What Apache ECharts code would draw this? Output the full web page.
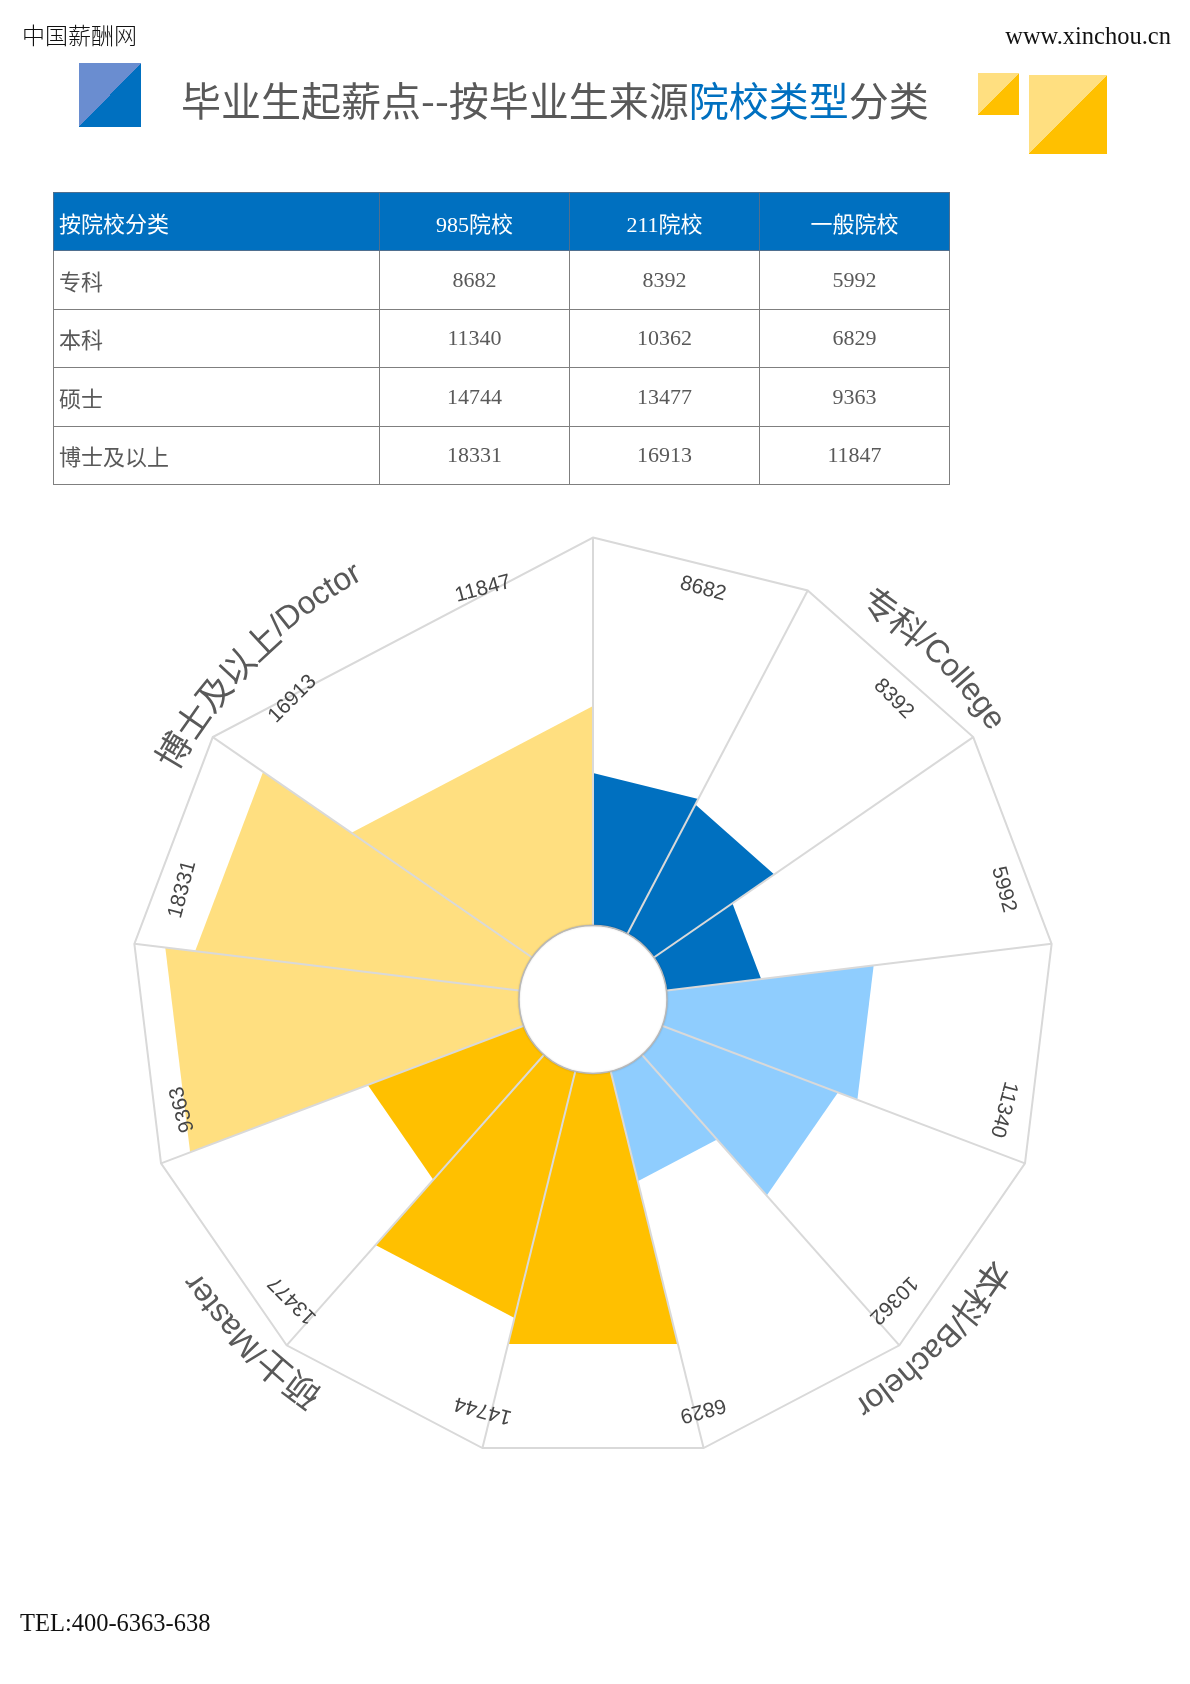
<!DOCTYPE html>
<html>
<head>
<meta charset="utf-8">
<script src="https://cdn.jsdelivr.net/npm/echarts@6/dist/echarts.min.js"></script>
<style>
html,body{margin:0;padding:0;background:#fff;}
#page{position:relative;width:1190px;height:1684px;overflow:hidden;background:#fff;}
#chart{position:absolute;left:0;top:0;width:1190px;height:1684px;}
.abs{position:absolute;white-space:nowrap;z-index:2;}
#site{left:22px;top:22.5px;font-size:23px;line-height:23px;font-family:"Noto Sans CJK SC";font-weight:300;color:#111;}
#url{right:19px;top:23.5px;font-size:24.5px;line-height:24px;font-family:"Liberation Serif";color:#111;}
#title{left:181px;top:78.5px;font-size:40px;line-height:40px;font-family:"Noto Sans CJK SC";color:#595959;}
#title .hl{color:#0070c0;}
.sq{position:absolute;z-index:2;}
#sq1{left:79px;top:63px;width:62px;height:64px;background:linear-gradient(to bottom right,#6a8dd0 50%,#0070c0 50%);}
#sq2{left:978px;top:73px;width:41px;height:42px;background:linear-gradient(to bottom right,#ffdf80 50%,#ffc000 50%);}
#sq3{left:1029px;top:75px;width:78px;height:79px;background:linear-gradient(to bottom right,#ffdf80 50%,#ffc000 50%);}
#tbl{position:absolute;z-index:2;left:53px;top:192px;border-collapse:collapse;table-layout:fixed;
  font-family:"Liberation Serif","Noto Sans CJK SC";font-size:22px;color:#595959;}
#tbl tr{height:58.4px;}
#tbl td{border:1px solid #7f7f7f;padding:0;text-align:center;}
#tbl td.first{text-align:left;padding-left:5px;}
#tbl tr.head td{background:#0070c0;color:#fff;border-color:#4f6f8f;}
#tel{left:20px;top:1611px;font-size:24.5px;line-height:24px;font-family:"Liberation Serif";color:#111;}
</style>
</head>
<body>
<div id="page">
  <div id="chart"></div>
  <div class="abs" id="site">中国薪酬网</div>
  <div class="abs" id="url">www.xinchou.cn</div>
  <div class="sq" id="sq1"></div>
  <div class="abs" id="title">毕业生起薪点--按毕业生来源<span class="hl">院校类型</span>分类</div>
  <div class="sq" id="sq2"></div>
  <div class="sq" id="sq3"></div>
  <table id="tbl"></table>
  <div class="abs" id="tel">TEL:400-6363-638</div>
</div>
<script>
// ---------------- data ----------------
const tableCorner = '按院校分类';
const schoolTypes = ['985院校', '211院校', '一般院校'];
const degreeNames = ['专科', '本科', '硕士', '博士及以上'];
const degreeLabels = ['专科/College', '本科/Bachelor', '硕士/Master', '博士及以上/Doctor'];
const collegeValues  = [8682, 8392, 5992];
const bachelorValues = [11340, 10362, 6829];
const masterValues   = [14744, 13477, 9363];
const doctorValues   = [18331, 16913, 11847];
const groupValues = [collegeValues, bachelorValues, masterValues, doctorValues];

// ---------------- styles / layout ----------------
const groupColors = ['#0070c0', '#8fcdfe', '#ffc000', '#ffdf80'];
const R_MIN = -2000, R_MAX = 19800;   // radius axis
const SLOTS = 13;                     // angle axis extent
const GRID_COLOR = '#d9d9d9';
const VALUE_FONT = '21px "Liberation Sans", sans-serif';
const CAT_FONT_LATIN = '32px "Liberation Sans", sans-serif';
const CAT_FONT_CJK = '35px "Noto Sans CJK SC", sans-serif';
const VALUE_R_FRAC = 0.92;
const CAT_R_FRAC = 1.056;
const HOLE_PX = 74;

// ---------------- table ----------------
(function buildTable() {
  const t = document.getElementById('tbl');
  const widths = [326, 190, 190, 190];
  let html = '<colgroup>' + widths.map(w => '<col style="width:' + w + 'px">').join('') + '</colgroup>';
  html += '<tr class="head"><td class="first">' + tableCorner + '</td>' +
    schoolTypes.map(s => '<td>' + s + '</td>').join('') + '</tr>';
  degreeNames.forEach((d, g) => {
    html += '<tr><td class="first">' + d + '</td>' +
      groupValues[g].map(v => '<td>' + v + '</td>').join('') + '</tr>';
  });
  t.innerHTML = html;
})();

// ---------------- chart ----------------
const flatValues = [];
groupValues.forEach((arr, g) => arr.forEach(v => flatValues.push({ v, g })));
const nBars = flatValues.length;

const barData = flatValues.map((d, i) => ({
  value: [d.v, i, i === nBars - 1 ? SLOTS : i + 1],
  itemStyle: { color: groupColors[d.g] }
}));
const labelData = flatValues.map((d, i) => [d.v, (i + 0.5) * SLOTS / nBars]);
const catData = degreeLabels.map((t, g) => [R_MAX, (g * 3 + 1.5) * SLOTS / nBars]);

const measureCtx = document.createElement('canvas').getContext('2d');
const rVal = frac => R_MIN + frac * (R_MAX - R_MIN);
const toDeg = a => a / SLOTS * 360;
const isCJK = ch => ch.charCodeAt(0) > 0x2e80;

const chart = echarts.init(document.getElementById('chart'), null, { renderer: 'canvas' });
chart.setOption({
  animation: false,
  polar: { center: [593, 999.5], radius: 462 },
  angleAxis: { type: 'value', min: 0, max: SLOTS, startAngle: 90, clockwise: true, show: false },
  radiusAxis: { type: 'value', min: R_MIN, max: R_MAX, show: false },
  series: [
    {
      type: 'custom', coordinateSystem: 'polar', z: 2, clip: false,
      data: barData,
      renderItem: function (params, api) {
        const v = api.value(0), a0 = api.value(1), a1 = api.value(2);
        const pts = [api.coord([R_MIN, a0]), api.coord([v, a0]), api.coord([v, a1]), api.coord([R_MIN, a1])];
        return { type: 'polygon', shape: { points: pts }, style: { fill: api.visual('color') } };
      }
    },
    {
      type: 'custom', coordinateSystem: 'polar', z: 3, clip: false, silent: true,
      data: [[R_MAX, 0]],
      renderItem: function (params, api) {
        const c = api.coord([R_MIN, 0]);
        const verts = [];
        for (let i = 0; i < nBars; i++) verts.push(api.coord([R_MAX, i]));
        const children = verts.map(p => ({
          type: 'line', shape: { x1: c[0], y1: c[1], x2: p[0], y2: p[1] },
          style: { stroke: GRID_COLOR, lineWidth: 2 }
        }));
        children.push({ type: 'polygon', shape: { points: verts },
          style: { fill: 'none', stroke: GRID_COLOR, lineWidth: 2 } });
        return { type: 'group', children };
      }
    },
    {
      type: 'custom', coordinateSystem: 'polar', z: 4, clip: false, silent: true,
      data: [[R_MIN, 0]],
      renderItem: function (params, api) {
        const c = api.coord([R_MIN, 0]);
        return { type: 'circle', shape: { cx: c[0], cy: c[1], r: HOLE_PX },
          style: { fill: '#fff', stroke: '#b8b8b8', lineWidth: 1.5, shadowBlur: 2, shadowColor: 'rgba(0,0,0,0.15)' } };
      }
    },
    {
      type: 'custom', coordinateSystem: 'polar', z: 5, clip: false, silent: true,
      data: labelData,
      renderItem: function (params, api) {
        const v = api.value(0), a = api.value(1);
        const p = api.coord([rVal(VALUE_R_FRAC), a]);
        return { type: 'text', x: p[0], y: p[1], rotation: -toDeg(a) * Math.PI / 180,
          style: { text: String(v), x: 0, y: 0, align: 'center', verticalAlign: 'middle',
            font: VALUE_FONT, fill: '#454545' } };
      }
    },
    {
      type: 'custom', coordinateSystem: 'polar', z: 5, clip: false, silent: true,
      data: catData,
      renderItem: function (params, api) {
        const text = degreeLabels[params.dataIndex];
        const a = api.value(1);
        const c = api.coord([R_MIN, 0]);
        const o = api.coord([R_MAX, 0]);
        const rPx = Math.abs(c[1] - o[1]) * CAT_R_FRAC;
        const chars = Array.from(text);
        const fonts = chars.map(ch => isCJK(ch) ? CAT_FONT_CJK : CAT_FONT_LATIN);
        const widths = chars.map((ch, j) => { measureCtx.font = fonts[j]; return measureCtx.measureText(ch).width; });
        const total = widths.reduce((s, w) => s + w, 0);
        const centerDeg = toDeg(a);
        let cum = 0;
        const children = chars.map((ch, j) => {
          const deg = centerDeg + ((cum + widths[j] / 2) - total / 2) / rPx * 180 / Math.PI;
          cum += widths[j];
          const p = api.coord([rVal(CAT_R_FRAC), deg / 360 * SLOTS]);
          return { type: 'text', x: p[0], y: p[1], rotation: -deg * Math.PI / 180,
            style: { text: ch, x: 0, y: 0, align: 'center', verticalAlign: 'middle',
              font: fonts[j], fill: '#595959' } };
        });
        return { type: 'group', children };
      }
    }
  ]
});
</script>
</body>
</html>
